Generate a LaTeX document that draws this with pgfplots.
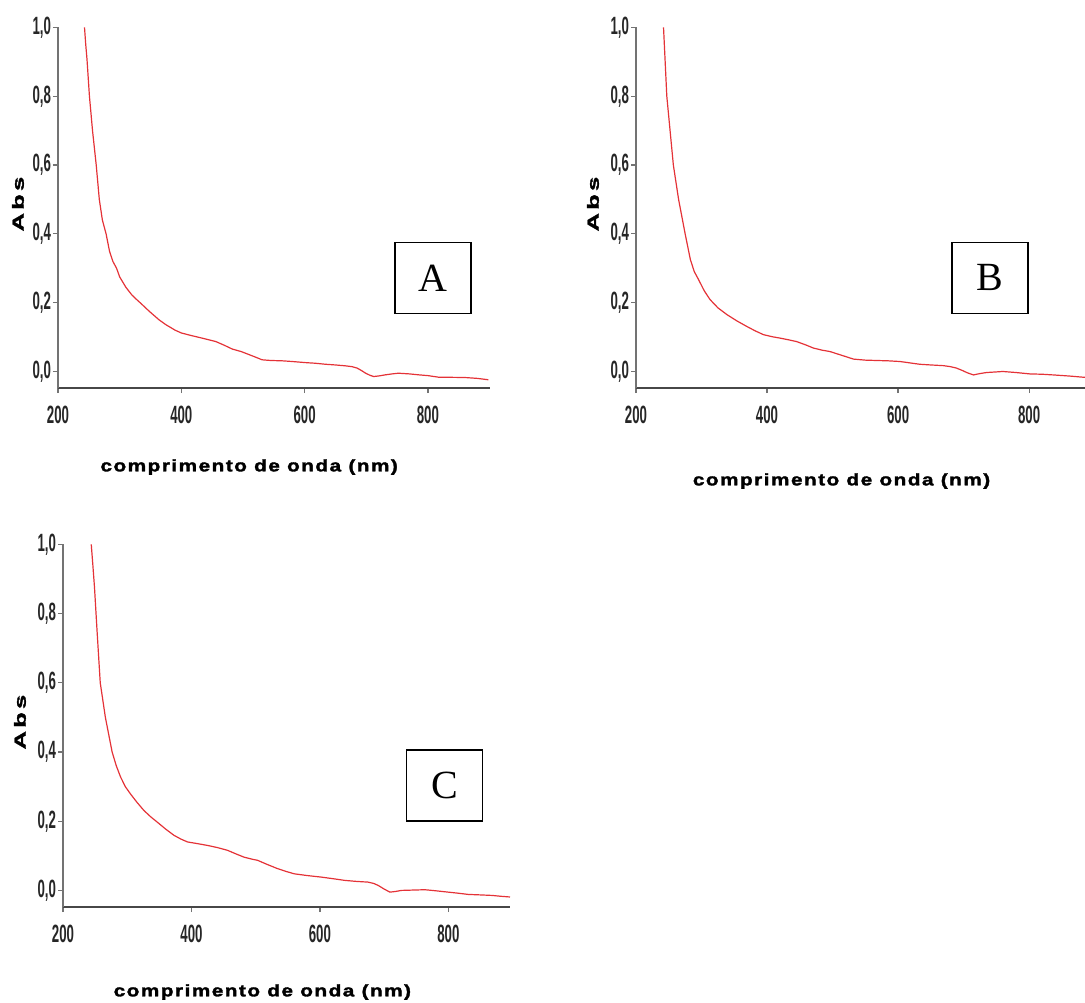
\documentclass[border=0pt]{standalone}
\usepackage{pgfplots}
\pgfplotsset{compat=1.18}
\usepackage{fontspec}
\setmainfont{Liberation Sans}
\newfontfamily\tickfont[FakeStretch=0.53]{Liberation Sans}
\newfontfamily\labelfont[FakeStretch=1.25, LetterSpace=9, FakeBold=2]{Liberation Sans}
\newfontfamily\abslabelfont[FakeStretch=1.6, LetterSpace=20, FakeBold=2]{Liberation Sans}
\newfontfamily\boxfont{Liberation Serif}

\definecolor{spec}{RGB}{228,50,55}

% absorbance spectra (wavelength in nm, absorbance)
\pgfplotstableread{
x y
243 1.000
245 0.950
247 0.908
251 0.800
256 0.700
262 0.600
267 0.500
272 0.440
278 0.400
283.5 0.350
289 0.320
295 0.300
300 0.275
310 0.245
320 0.222
327 0.210
335 0.197
348 0.175
364 0.150
375 0.136
390 0.120
400 0.112
415 0.105
429 0.099
445 0.092
456 0.087
470 0.076
483 0.065
497 0.058
510 0.049
520 0.042
531 0.034
545 0.032
564 0.031
580 0.029
600 0.026
617 0.024
634 0.021
650 0.019
666 0.0165
677 0.014
685 0.010
692 0.003
699 -0.005
706 -0.011
712 -0.0146
720 -0.013
731 -0.0097
742 -0.007
752 -0.005
770 -0.007
785 -0.0097
800 -0.012
817 -0.0165
840 -0.017
860 -0.0175
880 -0.020
898 -0.024
}\specA

\pgfplotstableread{
x y
242 1.000
244.5 0.900
247 0.800
252 0.700
257 0.600
265 0.500
275 0.400
283 0.325
289 0.290
295.5 0.267
304 0.235
313 0.209
325 0.185
339 0.165
354 0.147
369 0.131
382 0.118
394.6 0.107
408 0.101
420 0.097
433 0.092
445 0.087
458 0.078
471 0.068
484 0.062
496 0.058
514 0.047
532 0.036
550 0.033
567 0.032
585 0.031
603 0.029
618 0.025
633 0.021
650 0.019
669 0.017
680 0.014
689 0.010
698 0.003
706 -0.004
715 -0.010
725 -0.006
735 -0.003
760 0.000
780 -0.003
801 -0.007
820 -0.008
837 -0.010
860 -0.013
885 -0.017
}\specB

\pgfplotstableread{
x y
244 1.000
246.5 0.940
249 0.877
253 0.751
258 0.600
266 0.500
276.5 0.400
283 0.360
289.6 0.328
297 0.300
305 0.279
315 0.255
326 0.231
337 0.212
347 0.197
360 0.177
373 0.159
384 0.148
394 0.140
410 0.135
425 0.130
440 0.124
456 0.116
470 0.105
482 0.096
495 0.090
503 0.087
518 0.075
534 0.063
547 0.055
560 0.048
580 0.043
602 0.0385
620 0.034
638.5 0.029
657 0.026
675 0.024
684 0.020
690.6 0.0145
700 0.004
709 -0.005
718 -0.003
727 0.000
745 0.001
763.5 0.002
780 -0.001
800 -0.005
815 -0.008
831 -0.0116
850 -0.013
868 -0.0145
882 -0.017
896 -0.019
}\specC

\newcommand\xlabelfont{\labelfont\bfseries\fontsize{8.3}{10}\selectfont}
\newcommand\ylabelfont{\abslabelfont\bfseries\fontsize{8}{9}\selectfont}

\pgfplotsset{
  spectrum/.style={
    scale only axis,
    anchor=south west,
    axis lines=left,
    axis line style={-},
    x axis line style={line width=1pt, draw=black!72},
    y axis line style={line width=0.7pt, draw=black!55},
    xmin=200, ymin=-0.048, ymax=1.0,
    enlargelimits=false,
    xtick={200,400,600,800},
    ytick={0,0.2,0.4,0.6,0.8,1.0},
    tick align=outside,
    major tick length=2.5pt,
    every tick/.style={draw=black!55, line width=0.6pt},
    /pgf/number format/assume math mode=true,
    /pgf/number format/use comma,
    yticklabel style={/pgf/number format/fixed,
      /pgf/number format/fixed zerofill,
      /pgf/number format/precision=1,
      inner sep=0.8pt},
    xticklabel style={yshift=-3pt},
    tick label style={font=\tickfont\bfseries\fontsize{12.5}{13}\selectfont, text=black!85},
    ylabel={Abs},
    xlabel={comprimento de onda (nm)},
    clip=false,
  },
  curve/.style={color=spec, line width=0.6pt, no markers},
}
\tikzset{
  letterbox/.style={draw=black, line width=0.8pt, inner sep=0pt,
    minimum width=38pt, minimum height=35.5pt,
    font=\boxfont\fontsize{20}{20}\selectfont},
}

\begin{document}
\begin{tikzpicture}
\useasboundingbox (0,0) rectangle (542.5pt,-501pt);

% panel A
\begin{axis}[spectrum,
  at={(29pt,-194pt)}, width=215.8pt, height=180.3pt, xmax=900,
  every axis y label/.style={at={(axis description cs:0,0.51)}, xshift=-20pt, rotate=90, anchor=center, font=\ylabelfont},
  every axis x label/.style={at={(axis description cs:0.443,0)}, yshift=-39.5pt, anchor=center, font=\xlabelfont}]
\addplot[curve] table[x=x,y=y] {\specA};
\node[letterbox] at (axis cs:808,0.272) {A};
\end{axis}

% panel B
\begin{axis}[spectrum,
  at={(318pt,-194pt)}, width=224.4pt, height=180.3pt, xmax=885,
  every axis y label/.style={at={(axis description cs:0,0.51)}, xshift=-21.5pt, rotate=90, anchor=center, font=\ylabelfont},
  every axis x label/.style={at={(axis description cs:0.458,0)}, yshift=-46.5pt, anchor=center, font=\xlabelfont}]
\addplot[curve] table[x=x,y=y] {\specB};
\node[letterbox] at (axis cs:740,0.272) {B};
\end{axis}

% panel C
\begin{axis}[spectrum,
  at={(31.5pt,-453.5pt)}, width=223.5pt, height=181.3pt, xmax=896,
  every axis y label/.style={at={(axis description cs:0,0.51)}, xshift=-21.5pt, rotate=90, anchor=center, font=\ylabelfont},
  every axis x label/.style={at={(axis description cs:0.446,0)}, yshift=-42.5pt, anchor=center, font=\xlabelfont}]
\addplot[curve] table[x=x,y=y] {\specC};
\node[letterbox] at (axis cs:794,0.303) {C};
\end{axis}
\end{tikzpicture}
\end{document}
